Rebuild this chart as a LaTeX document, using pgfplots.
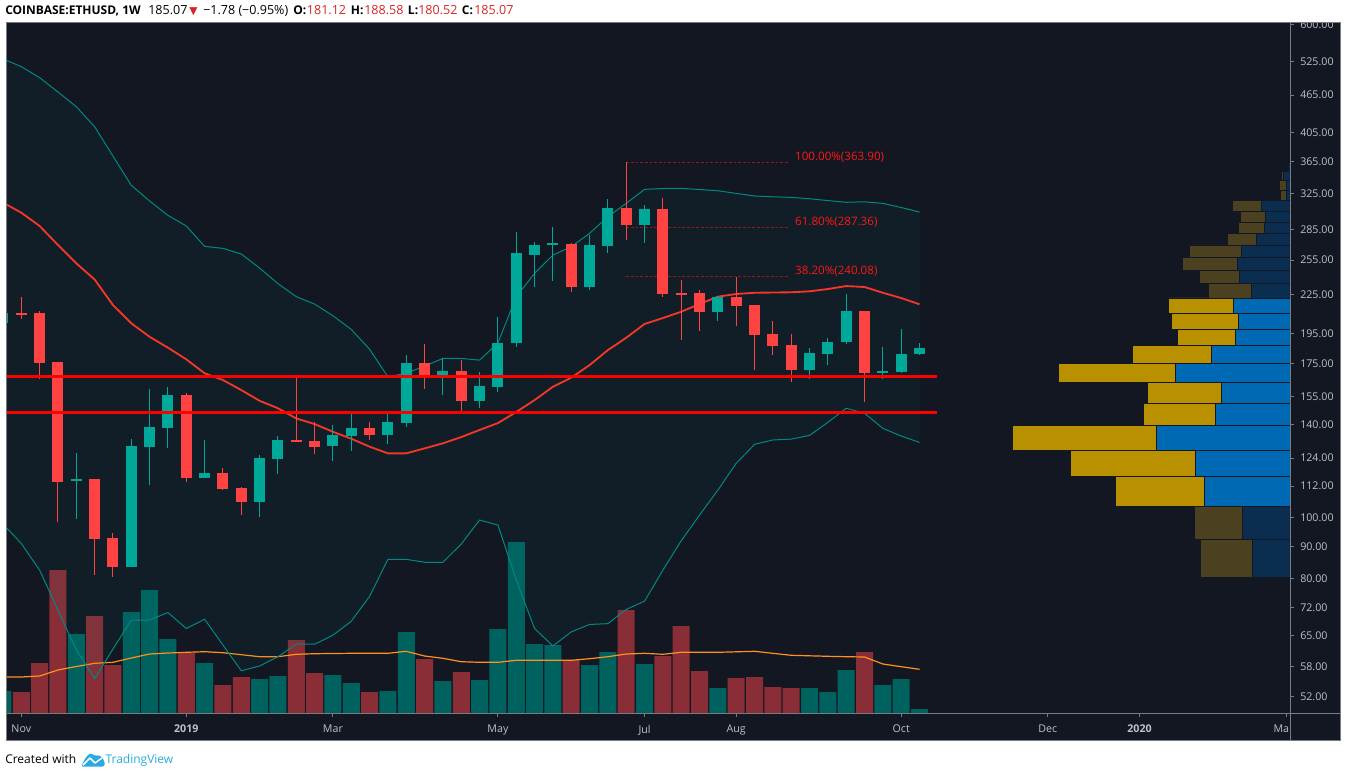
\documentclass[border=0pt]{standalone}
\usepackage{pgfplots}
\pgfplotsset{compat=1.18}
\usepackage{pgfplotstable}
\usepackage{fontspec}
\setmainfont{Open Sans}
\newfontfamily\symfont{DejaVu Sans}

\definecolor{bg}{RGB}{19,23,34}
\definecolor{framec}{RGB}{120,123,134}
\definecolor{ticktxt}{RGB}{190,193,200}
\definecolor{upc}{RGB}{0,168,154}
\definecolor{downc}{RGB}{255,67,67}
\definecolor{vup}{RGB}{0,98,94}
\definecolor{vdown}{RGB}{137,46,54}
\definecolor{band}{RGB}{0,137,130}
\definecolor{basis}{RGB}{242,54,40}
\definecolor{hline}{RGB}{255,0,0}
\definecolor{vma}{RGB}{255,145,30}
\definecolor{fib}{RGB}{155,22,22}
\definecolor{fibtxt}{RGB}{255,22,22}
\definecolor{pyel}{RGB}{184,144,0}
\definecolor{pblu}{RGB}{0,105,180}
\definecolor{dyel}{RGB}{75,64,32}
\definecolor{dblu}{RGB}{10,45,80}
\definecolor{ttlred}{RGB}{214,36,36}
\definecolor{tvblue}{RGB}{41,171,226}

\def\pp#1#2{({(#1)*0.75pt},{-(#2)*0.75pt})}

% Bollinger bands: index, upper, basis, lower
\pgfplotstableread{
i up mid lo
-1 530.5 314.4 97.6
0 515.5 303.0 90.9
1 495.3 288.7 82.5
2 470.1 269.4 71.3
3 445.7 252.0 61.7
4 414.4 237.6 55.6
5 372.4 216.5 61.9
6 334.8 202.6 68.8
7 316.2 192.9 68.8
8 300.1 185.4 70.7
9 288.7 177.7 66.7
10 268.1 168.9 69.0
11 266.1 164.8 62.8
12 260.7 158.9 57.2
13 247.7 152.8 58.2
14 234.1 148.7 60.2
15 223.2 143.3 63.0
16 217.3 140.4 63.0
17 208.2 136.5 65.1
18 198.2 133.1 68.5
19 184.3 129.3 75.0
20 166.8 126.2 85.8
21 168.9 126.2 85.8
22 173.4 128.5 84.9
23 178.3 130.9 84.9
24 178.3 133.9 90.7
25 177.2 137.4 99.0
26 188.7 140.9 97.2
27 223.2 146.7 79.6
28 243.0 153.2 66.7
29 259.7 160.8 62.6
30 267.7 166.2 65.9
31 281.1 174.0 67.7
32 298.6 183.8 67.9
33 313.5 192.2 71.5
34 329.9 202.1 73.7
35 330.9 206.5 82.5
36 331.1 211.3 91.8
37 329.7 217.3 100.8
38 328.2 223.2 110.4
39 325.1 225.4 121.7
40 322.0 226.4 130.4
41 321.1 226.6 132.5
42 320.4 226.8 132.9
43 318.8 227.6 134.7
44 316.7 229.5 141.3
45 314.7 232.0 148.7
46 315.3 231.2 146.0
47 313.5 226.4 138.2
48 308.8 222.1 134.4
49 303.7 217.1 131.3
}\bbands

% volume profile rows: lower price edge, total length (px), down part (px)
\pgfplotstableread{
y t b
80.5 89.7 38
92.31 95.3 48
104.12 0 0
}\vpLow
\pgfplotstableread{
y t b
104.12 175 86
115.92 220 95
127.73 278 134
139.54 146.3 75
151.35 143 68.3
163.16 231.7 115
174.96 157.3 79
186.77 112.3 54.7
198.58 119 52
210.39 121.7 56.3
222.2 0 0
}\vpMid
\pgfplotstableread{
y t b
222.2 81.7 38.3
234.0 90.7 50.3
245.81 108 53
257.62 100.7 49
269.43 63 33.7
281.24 51.7 25.7
293.04 49.7 25
304.85 57.3 29
316.66 9.7 3.3
328.47 10.7 3.3
340.28 9 6.3
352.08 3 1.7
363.9 0 0
}\vpHigh

\pgfplotsset{chartax/.style={at={(4.5pt,-534.75pt)}, anchor=south west,
  scale only axis, width=963pt, height=518.25pt,
  xmin=-0.835, xmax=69.21, clip=true}}
\tikzset{wu/.style={upc, line width=0.75pt}, bu/.style={upc, line width=8.25pt},
  wd/.style={downc, line width=0.75pt}, bd/.style={downc, line width=8.25pt},
  fibl/.style={fib, line width=0.75pt, dash pattern=on 2pt off 1.5pt},
  fibn/.style={anchor=base west, inner sep=0pt, text=fibtxt, yshift=1.6pt, font=\fontsize{8.7}{10}\selectfont}}

\begin{document}
\begin{tikzpicture}
\fill[white] \pp{0}{0} rectangle \pp{1347}{771};
\fill[bg] \pp{6}{22} rectangle \pp{1340}{740};

\begin{scope}
\clip \pp{6}{22} rectangle \pp{1340}{740};

% ---------- volume ----------
\begin{axis}[chartax, hide axis, ymin=0, ymax=691]
\addplot[ybar, bar width=12.75pt, bar shift=0pt, fill=vup, draw=none] coordinates {
(-1,22) (3,79) (6,101) (7,123) (8,74) (10,50) (13,34) (14,37) (17,38) (18,30)
(20,22) (21,81) (23,32) (25,33) (26,84) (27,171) (28,69) (29,68) (31,48) (32,61)
(34,49) (38,25) (43,25) (44,21) (45,43) (47,28) (48,34) (49,4)};
\addplot[ybar, bar width=12.75pt, bar shift=0pt, fill=vdown, draw=none] coordinates {
(0,21) (1,50) (2,143) (4,97) (5,48) (9,60) (11,28) (12,36) (15,73) (16,40)
(19,21) (22,54) (24,41) (30,53) (33,103) (35,57) (36,87) (37,42) (39,35) (40,36)
(41,26) (42,25) (46,61)};
\addplot[vma, line width=0.9pt] coordinates {
(-1,36) (0,36) (1,37) (2,43) (3,46.5) (4,49.7) (5,50.7) (6,55) (7,59) (8,60)
(9,60.7) (10,61.3) (11,60.3) (12,58.3) (13,56.3) (14,56.3) (15,58.7) (16,59.3)
(17,59.5) (18,59.7) (19,59.7) (20,59.7) (21,61.7) (22,57) (23,54.7) (24,51.3)
(25,50.7) (26,50.7) (27,52.7) (28,52.7) (29,52.7) (30,52.7) (31,54.3) (32,56.3)
(33,59) (34,59.7) (35,58.7) (36,60.7) (37,60.7) (38,60.7) (39,61.2) (40,61.7)
(41,59.7) (42,57.7) (43,57.2) (44,56.7) (45,56.3) (46,56) (47,49) (48,46.3) (49,43.7)};
\end{axis}

% ---------- volume profile ----------
\begin{axis}[chartax, hide axis, xmin=0, xmax=1284, x dir=reverse,
  ymode=log, ymin=49.05, ymax=606.6]
\addplot[xbar interval, fill=dyel, draw=bg, line width=0.5pt] table[x=t,y=y]{\vpLow};
\addplot[xbar interval, fill=dblu, draw=bg, line width=0.5pt] table[x=b,y=y]{\vpLow};
\addplot[xbar interval, fill=pyel, draw=bg, line width=0.5pt] table[x=t,y=y]{\vpMid};
\addplot[xbar interval, fill=pblu, draw=bg, line width=0.5pt] table[x=b,y=y]{\vpMid};
\addplot[xbar interval, fill=dyel, draw=bg, line width=0.5pt] table[x=t,y=y]{\vpHigh};
\addplot[xbar interval, fill=dblu, draw=bg, line width=0.5pt] table[x=b,y=y]{\vpHigh};
\end{axis}

% ---------- price ----------
\begin{axis}[chartax, ymode=log, ymin=49.05, ymax=606.6,
  axis line style={draw=none},
  xminorticks=false, yminorticks=false,
  xtick={0,9,17,26,34,39,48,56,61,69},
  xticklabels={Nov,\textbf{2019},Mar,May,Jul,Aug,Oct,Dec,\textbf{2020},\makebox[4.5pt][r]{Ma}},
  xtick pos=bottom, ytick pos=right, yticklabel pos=right,
  tick align=outside, major tick length=3pt,
  tick style={draw=framec, line width=0.75pt},
  ytick={52,58,65,72,80,90,100,112,124,140,155,175,195,225,255,285,325,365,405,465,525,600},
  yticklabels={52.00,58.00,65.00,72.00,80.00,90.00,100.00,112.00,124.00,140.00,155.00,175.00,195.00,225.00,255.00,285.00,325.00,365.00,405.00,465.00,525.00,600.00},
  xticklabel style={font=\fontsize{8}{9}\selectfont, text=ticktxt, inner sep=0pt, yshift=-6pt},
  yticklabel style={font=\fontsize{8}{9}\selectfont, text=ticktxt, anchor=west, inner sep=0pt, xshift=4.5pt},
]
% band fill: upper band forward, lower band backward
\addplot[fill=band, fill opacity=0.06, draw=none] coordinates {
(-1,530.5)(0,515.5)(1,495.3)(2,470.1)(3,445.7)(4,414.4)(5,372.4)(6,334.8)(7,316.2)(8,300.1)
(9,288.7)(10,268.1)(11,266.1)(12,260.7)(13,247.7)(14,234.1)(15,223.2)(16,217.3)(17,208.2)
(18,198.2)(19,184.3)(20,166.8)(21,168.9)(22,173.4)(23,178.3)(24,178.3)(25,177.2)(26,188.7)
(27,223.2)(28,243.0)(29,259.7)(30,267.7)(31,281.1)(32,298.6)(33,313.5)(34,329.9)(35,330.9)
(36,331.1)(37,329.7)(38,328.2)(39,325.1)(40,322.0)(41,321.1)(42,320.4)(43,318.8)(44,316.7)
(45,314.7)(46,315.3)(47,313.5)(48,308.8)(49,303.7)
(49,131.3)(48,134.4)(47,138.2)(46,146.0)(45,148.7)(44,141.3)(43,134.7)(42,132.9)(41,132.5)
(40,130.4)(39,121.7)(38,110.4)(37,100.8)(36,91.8)(35,82.5)(34,73.7)(33,71.5)(32,67.9)
(31,67.7)(30,65.9)(29,62.6)(28,66.7)(27,79.6)(26,97.2)(25,99.0)(24,90.7)(23,84.9)(22,84.9)
(21,85.8)(20,85.8)(19,75.0)(18,68.5)(17,65.1)(16,63.0)(15,63.0)(14,60.2)(13,58.2)(12,57.2)
(11,62.8)(10,69.0)(9,66.7)(8,70.7)(7,68.8)(6,68.8)(5,61.9)(4,55.6)(3,61.7)(2,71.3)(1,82.5)
(0,90.9)(-1,97.6)} -- cycle;
\addplot[band, line width=0.75pt] table[x=i,y=up]{\bbands};
\addplot[band, line width=0.75pt] table[x=i,y=lo]{\bbands};
\addplot[basis, line width=1.4pt] table[x=i,y=mid]{\bbands};

% fib retracement
\addplot[fibl] coordinates {(33,363.9) (41.85,363.9)};
\addplot[fibl] coordinates {(33,287.36) (41.85,287.36)};
\addplot[fibl] coordinates {(33,240.08) (41.85,240.08)};
\node[fibn] at (axis cs:42.2,363.9) {100.00\%(363.90)};
\node[fibn] at (axis cs:42.2,287.36) {61.80\%(287.36)};
\node[fibn] at (axis cs:42.2,240.08) {38.20\%(240.08)};

% candles (wick low-high, then body open-close)
\addplot[wu] coordinates {(-1,200)(-1,212)};      \addplot[bu] coordinates {(-1,202.6)(-1,210.1)};
\addplot[wd] coordinates {(0,206.0)(0,222.7)};    \addplot[bd] coordinates {(0,210.6)(0,209.0)};
\addplot[wd] coordinates {(1,165.5)(1,211.6)};    \addplot[bd] coordinates {(1,210.1)(1,175.5)};
\addplot[wd] coordinates {(2,98.4)(2,176.0)};     \addplot[bd] coordinates {(2,175.9)(2,113.8)};
\addplot[wu] coordinates {(3,99.5)(3,126.3)};     \addplot[bu] coordinates {(3,114.0)(3,115.1)};
\addplot[wd] coordinates {(4,81.0)(4,115.0)};     \addplot[bd] coordinates {(4,114.9)(4,92.5)};
\addplot[wd] coordinates {(5,80.5)(5,94.4)};      \addplot[bd] coordinates {(5,92.7)(5,83.5)};
\addplot[wu] coordinates {(6,83.4)(6,132.9)};     \addplot[bu] coordinates {(6,83.5)(6,129.6)};
\addplot[wu] coordinates {(7,112.6)(7,159.5)};    \addplot[bu] coordinates {(7,129.3)(7,138.8)};
\addplot[wu] coordinates {(8,128.8)(8,160.6)};    \addplot[bu] coordinates {(8,138.5)(8,156.1)};
\addplot[wd] coordinates {(9,113.8)(9,157.0)};    \addplot[bd] coordinates {(9,156.1)(9,115.4)};
\addplot[wu] coordinates {(10,115.3)(10,132.4)};  \addplot[bu] coordinates {(10,115.4)(10,117.4)};
\addplot[wd] coordinates {(11,110.4)(11,119.6)};  \addplot[bd] coordinates {(11,117.4)(11,110.8)};
\addplot[wd] coordinates {(12,100.8)(12,111.5)};  \addplot[bd] coordinates {(12,111.2)(12,105.8)};
\addplot[wu] coordinates {(13,100.1)(13,125.4)};  \addplot[bu] coordinates {(13,105.8)(13,124.0)};
\addplot[wu] coordinates {(14,117.0)(14,134.4)};  \addplot[bu] coordinates {(14,123.6)(14,132.4)};
\addplot[wd] coordinates {(15,131.3)(15,166.0)};  \addplot[bd] coordinates {(15,132.4)(15,131.3)};
\addplot[wd] coordinates {(16,126.0)(16,141.4)};  \addplot[bd] coordinates {(16,132.0)(16,129.3)};
\addplot[wu] coordinates {(17,122.8)(17,139.9)};  \addplot[bu] coordinates {(17,129.7)(17,134.9)};
\addplot[wu] coordinates {(18,127.4)(18,147.2)};  \addplot[bu] coordinates {(18,134.5)(18,138.4)};
\addplot[wd] coordinates {(19,132.4)(19,141.4)};  \addplot[bd] coordinates {(19,138.4)(19,134.9)};
\addplot[wu] coordinates {(20,130.5)(20,145.6)};  \addplot[bu] coordinates {(20,134.9)(20,141.4)};
\addplot[wu] coordinates {(21,139.0)(21,180.5)};  \addplot[bu] coordinates {(21,141.1)(21,175.3)};
\addplot[wd] coordinates {(22,159.5)(22,187.9)};  \addplot[bd] coordinates {(22,175.3)(22,167.8)};
\addplot[wu] coordinates {(23,156.1)(23,178.5)};  \addplot[bu] coordinates {(23,167.8)(23,170.5)};
\addplot[wd] coordinates {(24,146.5)(24,177.3)};  \addplot[bd] coordinates {(24,170.3)(24,152.8)};
\addplot[wu] coordinates {(25,149.0)(25,169.7)};  \addplot[bu] coordinates {(25,152.8)(25,161.2)};
\addplot[wu] coordinates {(26,157.9)(26,207.5)};  \addplot[bu] coordinates {(26,160.8)(26,188.6)};
\addplot[wu] coordinates {(27,186.0)(27,282.4)};  \addplot[bu] coordinates {(27,188.3)(27,261.6)};
\addplot[wu] coordinates {(28,231.4)(28,272.3)};  \addplot[bu] coordinates {(28,259.7)(28,269.4)};
\addplot[wu] coordinates {(29,236.3)(29,287.9)};  \addplot[bu] coordinates {(29,269.0)(29,271.0)};
\addplot[wd] coordinates {(30,227.2)(30,271.2)};  \addplot[bd] coordinates {(30,270.4)(30,231.4)};
\addplot[wu] coordinates {(31,228.4)(31,279.4)};  \addplot[bu] coordinates {(31,231.4)(31,269.1)};
\addplot[wu] coordinates {(32,261.9)(32,318.5)};  \addplot[bu] coordinates {(32,268.7)(32,308.2)};
\addplot[wd] coordinates {(33,274.6)(33,363.9)};  \addplot[bd] coordinates {(33,308.2)(33,290.1)};
\addplot[wu] coordinates {(34,271.6)(34,311.6)};  \addplot[bu] coordinates {(34,290.1)(34,307.1)};
\addplot[wd] coordinates {(35,223.2)(35,319.6)};  \addplot[bd] coordinates {(35,307.1)(35,225.6)};
\addplot[wd] coordinates {(36,190.6)(36,237.1)};  \addplot[bd] coordinates {(36,226.6)(36,224.9)};
\addplot[wd] coordinates {(37,197.0)(37,228.6)};  \addplot[bd] coordinates {(37,225.9)(37,211.3)};
\addplot[wu] coordinates {(38,204.3)(38,224.0)};  \addplot[bu] coordinates {(38,211.3)(38,222.9)};
\addplot[wd] coordinates {(39,200.8)(39,240.08)}; \addplot[bd] coordinates {(39,222.9)(39,215.9)};
\addplot[wd] coordinates {(40,170.9)(40,216.6)};  \addplot[bd] coordinates {(40,216.5)(40,194.3)};
\addplot[wd] coordinates {(41,180.5)(41,204.3)};  \addplot[bd] coordinates {(41,194.8)(41,186.7)};
\addplot[wd] coordinates {(42,163.7)(42,194.8)};  \addplot[bd] coordinates {(42,187.2)(42,170.9)};
\addplot[wu] coordinates {(43,165.4)(43,185.2)};  \addplot[bu] coordinates {(43,170.9)(43,181.8)};
\addplot[wu] coordinates {(44,174.0)(44,192.3)};  \addplot[bu] coordinates {(44,181.1)(44,189.2)};
\addplot[wu] coordinates {(45,188.0)(45,225.6)};  \addplot[bu] coordinates {(45,189.2)(45,211.9)};
\addplot[wd] coordinates {(46,152.3)(46,212.0)};  \addplot[bd] coordinates {(46,211.9)(46,169.2)};
\addplot[wu] coordinates {(47,165.4)(47,186.0)};  \addplot[bu] coordinates {(47,169.2)(47,170.5)};
\addplot[wu] coordinates {(48,169.2)(48,198.4)};  \addplot[bu] coordinates {(48,169.9)(48,181.1)};
\addplot[wu] coordinates {(49,180.52)(49,188.58)};\addplot[bu] coordinates {(49,181.12)(49,185.07)};

% horizontal levels
\addplot[hline, line width=1.8pt] coordinates {(-0.835,166.9) (49.97,166.9)};
\addplot[hline, line width=1.8pt] coordinates {(-0.835,146.5) (49.97,146.5)};
\end{axis}
\end{scope}

% frame
\draw[framec, line width=0.75pt] \pp{6}{22} rectangle \pp{1340}{740};
\draw[framec, line width=0.75pt] \pp{1290}{22} -- \pp{1290}{740};
\draw[framec, line width=0.75pt] \pp{6}{713} -- \pp{1340}{713};

% title
\begin{scope}[every node/.style={anchor=base west, inner sep=0pt, font=\fontsize{9.4}{11}\selectfont}]
\node[font=\fontsize{9}{11}\selectfont\bfseries] at \pp{5}{14} {COINBASE:ETHUSD, 1W};
\node at \pp{148}{14} {185.07};
\node[text=ttlred, font=\symfont\fontsize{8}{10}\selectfont] at \pp{189}{14} {▼};
\node at \pp{203}{14} {\symbol{"2212}1.78 (\symbol{"2212}0.95\%)};
\node[font=\fontsize{9}{11}\selectfont\bfseries] at \pp{293}{14} {O:};
\node[text=ttlred] at \pp{306.7}{14} {181.12};
\node[font=\fontsize{9}{11}\selectfont\bfseries] at \pp{350.7}{14} {H:};
\node[text=ttlred] at \pp{364}{14} {188.58};
\node[font=\fontsize{9}{11}\selectfont\bfseries] at \pp{407.7}{14} {L:};
\node[text=ttlred] at \pp{418}{14} {180.52};
\node[font=\fontsize{9}{11}\selectfont\bfseries] at \pp{461.7}{14} {C:};
\node[text=ttlred] at \pp{474}{14} {185.07};
\end{scope}

% footer with logo
\node[anchor=base west, inner sep=0pt, font=\fontsize{9}{11}\selectfont] at \pp{5}{763} {Created with};
\fill[tvblue, rounded corners=1.5pt] \pp{81}{766.5} -- \pp{86}{757} -- \pp{91}{752.5} -- \pp{95}{756.5} -- \pp{99}{754.5} -- \pp{104.5}{760.5} -- \pp{104.5}{766.5} -- cycle;
\draw[white, line width=1.1pt, line join=round] \pp{83}{765} -- \pp{90}{758} -- \pp{95}{763} -- \pp{102}{758};
\node[anchor=base west, inner sep=0pt, text=tvblue, font=\fontsize{9}{11}\selectfont] at \pp{105.3}{763} {TradingView};

\pgfresetboundingbox
\path[use as bounding box] \pp{0}{0} rectangle \pp{1347}{771};
\end{tikzpicture}
\end{document}
